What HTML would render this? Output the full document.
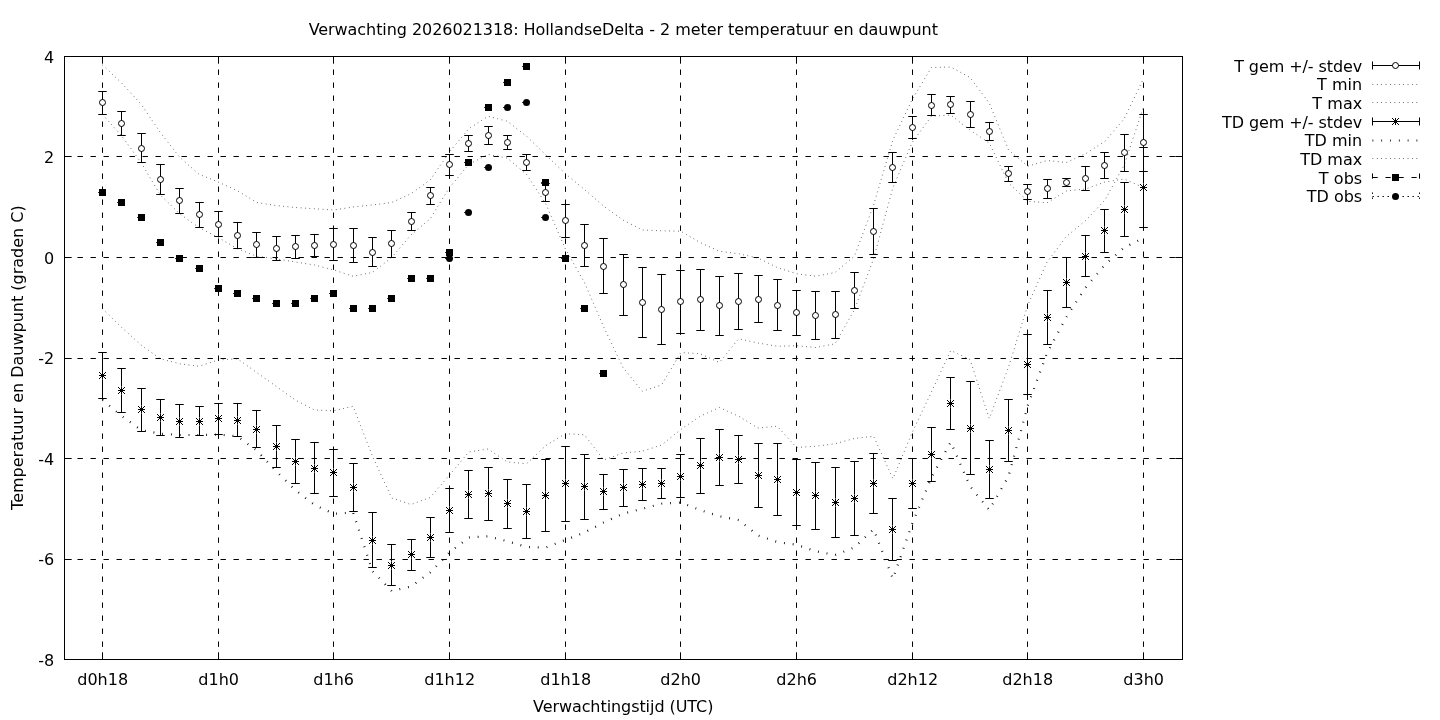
<!DOCTYPE html>
<html lang="nl"><head><meta charset="utf-8"><title>Verwachting 2026021318: HollandseDelta</title>
<style>html,body{margin:0;padding:0;background:#fff;overflow:hidden}svg{display:block}text{font-family:"DejaVu Sans","Liberation Sans",sans-serif;font-size:16px;fill:#000}</style></head><body>
<svg width="1440" height="720" viewBox="0 0 1440 720">
<rect width="1440" height="720" fill="#fff"/>
<g stroke="#000" stroke-width="1" fill="none" stroke-dasharray="5.4 7.6">
<path d="M102.5,56.5 V659.5"/>
<path d="M218.5,56.5 V659.5"/>
<path d="M333.5,56.5 V659.5"/>
<path d="M449.5,56.5 V659.5"/>
<path d="M565.5,56.5 V659.5"/>
<path d="M680.5,56.5 V659.5"/>
<path d="M796.5,56.5 V659.5"/>
<path d="M912.5,56.5 V659.5"/>
<path d="M1027.5,56.5 V659.5"/>
<path d="M1143.5,56.5 V659.5"/>
<path d="M64.5,156.5 H1182.5"/>
<path d="M64.5,257.5 H1182.5"/>
<path d="M64.5,358.5 H1182.5"/>
<path d="M64.5,458.5 H1182.5"/>
<path d="M64.5,559.5 H1182.5"/>
</g>
<g stroke="#000" stroke-width="1" fill="none">
<path d="M102.5,56.5 v7.2 M102.5,659.5 v-7.2"/>
<path d="M218.5,56.5 v7.2 M218.5,659.5 v-7.2"/>
<path d="M333.5,56.5 v7.2 M333.5,659.5 v-7.2"/>
<path d="M449.5,56.5 v7.2 M449.5,659.5 v-7.2"/>
<path d="M565.5,56.5 v7.2 M565.5,659.5 v-7.2"/>
<path d="M680.5,56.5 v7.2 M680.5,659.5 v-7.2"/>
<path d="M796.5,56.5 v7.2 M796.5,659.5 v-7.2"/>
<path d="M912.5,56.5 v7.2 M912.5,659.5 v-7.2"/>
<path d="M1027.5,56.5 v7.2 M1027.5,659.5 v-7.2"/>
<path d="M1143.5,56.5 v7.2 M1143.5,659.5 v-7.2"/>
<path d="M64.5,56.5 h7.2 M1182.5,56.5 h-7.2"/>
<path d="M64.5,156.5 h7.2 M1182.5,156.5 h-7.2"/>
<path d="M64.5,257.5 h7.2 M1182.5,257.5 h-7.2"/>
<path d="M64.5,358.5 h7.2 M1182.5,358.5 h-7.2"/>
<path d="M64.5,458.5 h7.2 M1182.5,458.5 h-7.2"/>
<path d="M64.5,559.5 h7.2 M1182.5,559.5 h-7.2"/>
<path d="M64.5,659.5 h7.2 M1182.5,659.5 h-7.2"/>
</g>
<path stroke="#000" stroke-width="0.8" stroke-dasharray="0.7 3.7" fill="none" d="M102.5,114.5 L121.78,136 L141.06,162.5 L160.33,195 L179.61,213.75 L198.89,227.5 L218.17,237.5 L237.44,248.75 L256.72,256.25 L276,258.75 L295.28,262 L314.56,265 L333.83,270 L353.11,276.25 L372.39,272.5 L391.67,257.5 L410.94,235 L430.22,218.75 L449.5,187.5 L468.78,164.4 L488.06,154.4 L507.33,158.1 L526.61,174.4 L545.89,204 L565.17,248.5 L584.44,282.5 L603.72,327 L623,367.5 L642.28,391.25 L661.56,385 L680.83,352.5 L700.11,353.75 L719.39,362.5 L738.67,338.75 L757.94,343 L777.22,346.25 L796.5,345.75 L815.78,347.5 L835.06,343.75 L854.33,310 L873.61,258.75 L892.89,187.5 L912.17,142.5 L931.44,116.25 L950.72,115 L970,130 L989.28,143 L1008.56,183 L1027.83,201.25 L1047.11,202.75 L1066.39,191 L1085.67,189 L1104.94,182 L1124.22,179 L1143.5,187.5"/>
<path stroke="#000" stroke-width="0.8" stroke-dasharray="0.7 3.7" fill="none" d="M102.5,65 L121.78,83.1 L141.06,104.2 L160.33,132.5 L179.61,157.2 L198.89,174.2 L218.17,182 L237.44,190.8 L256.72,202.5 L276,205.5 L295.28,207.5 L314.56,208.75 L333.83,210 L353.11,207 L372.39,205 L391.67,202.5 L410.94,193.75 L430.22,180 L449.5,151.9 L468.78,128.75 L488.06,116.25 L507.33,121.25 L526.61,136.25 L545.89,155 L565.17,173.5 L584.44,189.5 L603.72,206.25 L623,220 L642.28,230 L661.56,230.75 L680.83,231.25 L700.11,242.5 L719.39,251.25 L738.67,253.75 L757.94,258 L777.22,267.5 L796.5,273.75 L815.78,276.25 L835.06,272.5 L854.33,256.25 L873.61,205 L892.89,140 L912.17,99.5 L931.44,67.5 L950.72,67 L970,77.5 L989.28,103.1 L1008.56,150 L1027.83,166.25 L1047.11,160.5 L1066.39,162.5 L1085.67,153.75 L1104.94,141.25 L1124.22,118.75 L1143.5,78.5"/>
<path stroke="#000" stroke-width="2.2" stroke-dasharray="0.8 8" fill="none" d="M102.5,400 L121.78,416 L141.06,430 L160.33,433.75 L179.61,435 L198.89,435 L218.17,434.5 L237.44,436.25 L256.72,450.5 L276,471 L295.28,490 L314.56,505 L333.83,513.75 L353.11,512.5 L372.39,571 L391.67,591 L410.94,586.5 L430.22,572.5 L449.5,552.5 L468.78,537.5 L488.06,536.25 L507.33,541.25 L526.61,547 L545.89,547.5 L565.17,540 L584.44,532.5 L603.72,522.5 L623,513.75 L642.28,508.75 L661.56,503.75 L680.83,502.5 L700.11,510 L719.39,516.25 L738.67,520 L757.94,535.5 L777.22,542 L796.5,544.75 L815.78,551.25 L835.06,555 L854.33,547.5 L873.61,529.25 L892.89,578.75 L912.17,523.75 L931.44,477.5 L950.72,442 L970,486.25 L989.28,510 L1008.56,476.25 L1027.83,405.5 L1047.11,353 L1066.39,317 L1085.67,287.5 L1104.94,264.7 L1124.22,247.5 L1143.5,238"/>
<path stroke="#000" stroke-width="0.8" stroke-dasharray="0.7 3.7" fill="none" d="M102.5,308.75 L121.78,327.5 L141.06,345 L160.33,358.75 L179.61,363.75 L198.89,366.25 L218.17,360 L237.44,358.75 L256.72,372.5 L276,386.25 L295.28,400 L314.56,410 L333.83,410.75 L353.11,406.25 L372.39,456 L391.67,498 L410.94,504.5 L430.22,497.5 L449.5,475 L468.78,452 L488.06,449 L507.33,462 L526.61,463.75 L545.89,445.5 L565.17,433.75 L584.44,434.75 L603.72,460 L623,453 L642.28,451.25 L661.56,445 L680.83,429.5 L700.11,416.25 L719.39,407.5 L738.67,416.25 L757.94,428 L777.22,426.25 L796.5,447.5 L815.78,446.25 L835.06,443.75 L854.33,438.5 L873.61,436.25 L892.89,478.75 L912.17,432.5 L931.44,392 L950.72,350.5 L970,359.5 L989.28,418.5 L1008.56,367 L1027.83,305 L1047.11,262 L1066.39,236.5 L1085.67,220.5 L1104.94,200 L1124.22,165 L1143.5,107"/>
<path stroke="#000" stroke-width="1" fill="none" d="M102.5,91.5 V114.5 M98.25,91.5 h8.5 M98.25,114.5 h8.5 M121.5,111.5 V135.5 M117.25,111.5 h8.5 M117.25,135.5 h8.5 M141.5,133.5 V162.5 M137.25,133.5 h8.5 M137.25,162.5 h8.5 M160.5,164.5 V194.5 M156.25,164.5 h8.5 M156.25,194.5 h8.5 M179.5,188.5 V213.5 M175.25,188.5 h8.5 M175.25,213.5 h8.5 M199.5,202.5 V227.5 M195.25,202.5 h8.5 M195.25,227.5 h8.5 M218.5,211.5 V236.5 M214.25,211.5 h8.5 M214.25,236.5 h8.5 M237.5,222.5 V248.5 M233.25,222.5 h8.5 M233.25,248.5 h8.5 M256.5,232.5 V257.5 M252.25,232.5 h8.5 M252.25,257.5 h8.5 M276.5,236.5 V260.5 M272.25,236.5 h8.5 M272.25,260.5 h8.5 M295.5,235.5 V258.5 M291.25,235.5 h8.5 M291.25,258.5 h8.5 M314.5,234.5 V256.5 M310.25,234.5 h8.5 M310.25,256.5 h8.5 M333.5,228.5 V260.5 M329.25,228.5 h8.5 M329.25,260.5 h8.5 M353.5,228.5 V262.5 M349.25,228.5 h8.5 M349.25,262.5 h8.5 M372.5,237.5 V266.5 M368.25,237.5 h8.5 M368.25,266.5 h8.5 M391.5,230.5 V257.5 M387.25,230.5 h8.5 M387.25,257.5 h8.5 M411.5,212.5 V230.5 M407.25,212.5 h8.5 M407.25,230.5 h8.5 M430.5,187.5 V204.5 M426.25,187.5 h8.5 M426.25,204.5 h8.5 M449.5,154.5 V175.5 M445.25,154.5 h8.5 M445.25,175.5 h8.5 M468.5,135.5 V151.5 M464.25,135.5 h8.5 M464.25,151.5 h8.5 M488.5,126.5 V144.5 M484.25,126.5 h8.5 M484.25,144.5 h8.5 M507.5,135.5 V149.5 M503.25,135.5 h8.5 M503.25,149.5 h8.5 M526.5,154.5 V170.5 M522.25,154.5 h8.5 M522.25,170.5 h8.5 M545.5,183.5 V201.5 M541.25,183.5 h8.5 M541.25,201.5 h8.5 M565.5,204.5 V237.5 M561.25,204.5 h8.5 M561.25,237.5 h8.5 M584.5,224.5 V266.5 M580.25,224.5 h8.5 M580.25,266.5 h8.5 M603.5,238.5 V293.5 M599.25,238.5 h8.5 M599.25,293.5 h8.5 M623.5,254.5 V315.5 M619.25,254.5 h8.5 M619.25,315.5 h8.5 M642.5,267.5 V337.5 M638.25,267.5 h8.5 M638.25,337.5 h8.5 M661.5,274.5 V344.5 M657.25,274.5 h8.5 M657.25,344.5 h8.5 M680.5,270.5 V333.5 M676.25,270.5 h8.5 M676.25,333.5 h8.5 M700.5,269.5 V330.5 M696.25,269.5 h8.5 M696.25,330.5 h8.5 M719.5,276.5 V335.5 M715.25,276.5 h8.5 M715.25,335.5 h8.5 M738.5,273.5 V329.5 M734.25,273.5 h8.5 M734.25,329.5 h8.5 M758.5,275.5 V322.5 M754.25,275.5 h8.5 M754.25,322.5 h8.5 M777.5,279.5 V330.5 M773.25,279.5 h8.5 M773.25,330.5 h8.5 M796.5,290.5 V335.5 M792.25,290.5 h8.5 M792.25,335.5 h8.5 M815.5,291.5 V339.5 M811.25,291.5 h8.5 M811.25,339.5 h8.5 M835.5,291.5 V338.5 M831.25,291.5 h8.5 M831.25,338.5 h8.5 M854.5,272.5 V308.5 M850.25,272.5 h8.5 M850.25,308.5 h8.5 M873.5,208.5 V254.5 M869.25,208.5 h8.5 M869.25,254.5 h8.5 M892.5,152.5 V182.5 M888.25,152.5 h8.5 M888.25,182.5 h8.5 M912.5,116.5 V138.5 M908.25,116.5 h8.5 M908.25,138.5 h8.5 M931.5,94.5 V115.5 M927.25,94.5 h8.5 M927.25,115.5 h8.5 M950.5,96.5 V113.5 M946.25,96.5 h8.5 M946.25,113.5 h8.5 M970.5,101.5 V127.5 M966.25,101.5 h8.5 M966.25,127.5 h8.5 M989.5,122.5 V140.5 M985.25,122.5 h8.5 M985.25,140.5 h8.5 M1008.5,166.5 V181.5 M1004.25,166.5 h8.5 M1004.25,181.5 h8.5 M1027.5,184.5 V199.5 M1023.25,184.5 h8.5 M1023.25,199.5 h8.5 M1047.5,179.5 V198.5 M1043.25,179.5 h8.5 M1043.25,198.5 h8.5 M1066.5,178.5 V186.5 M1062.25,178.5 h8.5 M1062.25,186.5 h8.5 M1085.5,166.5 V190.5 M1081.25,166.5 h8.5 M1081.25,190.5 h8.5 M1104.5,152.5 V178.5 M1100.25,152.5 h8.5 M1100.25,178.5 h8.5 M1124.5,134.5 V171.5 M1120.25,134.5 h8.5 M1120.25,171.5 h8.5 M1143.5,114.5 V171.5 M1139.25,114.5 h8.5 M1139.25,171.5 h8.5"/>
<g stroke="#000" stroke-width="1" fill="#fff">
<circle cx="102.5" cy="102.5" r="3"/>
<circle cx="121.5" cy="123.5" r="3"/>
<circle cx="141.5" cy="148.5" r="3"/>
<circle cx="160.5" cy="179.5" r="3"/>
<circle cx="179.5" cy="200.5" r="3"/>
<circle cx="199.5" cy="214.5" r="3"/>
<circle cx="218.5" cy="224.5" r="3"/>
<circle cx="237.5" cy="235.5" r="3"/>
<circle cx="256.5" cy="244.5" r="3"/>
<circle cx="276.5" cy="248.5" r="3"/>
<circle cx="295.5" cy="246.5" r="3"/>
<circle cx="314.5" cy="245.5" r="3"/>
<circle cx="333.5" cy="244.5" r="3"/>
<circle cx="353.5" cy="245.5" r="3"/>
<circle cx="372.5" cy="252.5" r="3"/>
<circle cx="391.5" cy="243.5" r="3"/>
<circle cx="411.5" cy="221.5" r="3"/>
<circle cx="430.5" cy="195.5" r="3"/>
<circle cx="449.5" cy="164.5" r="3"/>
<circle cx="468.5" cy="143.5" r="3"/>
<circle cx="488.5" cy="135.5" r="3"/>
<circle cx="507.5" cy="142.5" r="3"/>
<circle cx="526.5" cy="162.5" r="3"/>
<circle cx="545.5" cy="192.5" r="3"/>
<circle cx="565.5" cy="220.5" r="3"/>
<circle cx="584.5" cy="245.5" r="3"/>
<circle cx="603.5" cy="266.5" r="3"/>
<circle cx="623.5" cy="284.5" r="3"/>
<circle cx="642.5" cy="302.5" r="3"/>
<circle cx="661.5" cy="309.5" r="3"/>
<circle cx="680.5" cy="301.5" r="3"/>
<circle cx="700.5" cy="299.5" r="3"/>
<circle cx="719.5" cy="305.5" r="3"/>
<circle cx="738.5" cy="301.5" r="3"/>
<circle cx="758.5" cy="299.5" r="3"/>
<circle cx="777.5" cy="305.5" r="3"/>
<circle cx="796.5" cy="312.5" r="3"/>
<circle cx="815.5" cy="315.5" r="3"/>
<circle cx="835.5" cy="314.5" r="3"/>
<circle cx="854.5" cy="290.5" r="3"/>
<circle cx="873.5" cy="231.5" r="3"/>
<circle cx="892.5" cy="167.5" r="3"/>
<circle cx="912.5" cy="127.5" r="3"/>
<circle cx="931.5" cy="105.5" r="3"/>
<circle cx="950.5" cy="104.5" r="3"/>
<circle cx="970.5" cy="114.5" r="3"/>
<circle cx="989.5" cy="131.5" r="3"/>
<circle cx="1008.5" cy="173.5" r="3"/>
<circle cx="1027.5" cy="191.5" r="3"/>
<circle cx="1047.5" cy="188.5" r="3"/>
<circle cx="1066.5" cy="182.5" r="3"/>
<circle cx="1085.5" cy="178.5" r="3"/>
<circle cx="1104.5" cy="165.5" r="3"/>
<circle cx="1124.5" cy="152.5" r="3"/>
<circle cx="1143.5" cy="142.5" r="3"/>
</g>
<path stroke="#000" stroke-width="1" fill="none" d="M102.5,352.5 V371.7 M102.5,379.3 V398.5 M98.25,352.5 h8.5 M98.25,398.5 h8.5 M121.5,368.5 V386.7 M121.5,394.3 V412.5 M117.25,368.5 h8.5 M117.25,412.5 h8.5 M141.5,388.5 V405.7 M141.5,413.3 V431.5 M137.25,388.5 h8.5 M137.25,431.5 h8.5 M160.5,399.5 V413.7 M160.5,421.3 V435.5 M156.25,399.5 h8.5 M156.25,435.5 h8.5 M179.5,404.5 V417.7 M179.5,425.3 V437.5 M175.25,404.5 h8.5 M175.25,437.5 h8.5 M199.5,406.5 V417.7 M199.5,425.3 V435.5 M195.25,406.5 h8.5 M195.25,435.5 h8.5 M218.5,403.5 V414.7 M218.5,422.3 V434.5 M214.25,403.5 h8.5 M214.25,434.5 h8.5 M237.5,403.5 V416.7 M237.5,424.3 V436.5 M233.25,403.5 h8.5 M233.25,436.5 h8.5 M256.5,410.5 V425.7 M256.5,433.3 V447.5 M252.25,410.5 h8.5 M252.25,447.5 h8.5 M276.5,425.5 V442.7 M276.5,450.3 V467.5 M272.25,425.5 h8.5 M272.25,467.5 h8.5 M295.5,439.5 V457.7 M295.5,465.3 V483.5 M291.25,439.5 h8.5 M291.25,483.5 h8.5 M314.5,442.5 V464.7 M314.5,472.3 V493.5 M310.25,442.5 h8.5 M310.25,493.5 h8.5 M333.5,449.5 V468.7 M333.5,476.3 V496.5 M329.25,449.5 h8.5 M329.25,496.5 h8.5 M353.5,463.5 V483.7 M353.5,491.3 V511.5 M349.25,463.5 h8.5 M349.25,511.5 h8.5 M372.5,512.5 V536.7 M372.5,544.3 V567.5 M368.25,512.5 h8.5 M368.25,567.5 h8.5 M391.5,544.5 V561.7 M391.5,569.3 V585.5 M387.25,544.5 h8.5 M387.25,585.5 h8.5 M411.5,539.5 V550.7 M411.5,558.3 V570.5 M407.25,539.5 h8.5 M407.25,570.5 h8.5 M430.5,517.5 V533.7 M430.5,541.3 V557.5 M426.25,517.5 h8.5 M426.25,557.5 h8.5 M449.5,488.5 V506.7 M449.5,514.3 V532.5 M445.25,488.5 h8.5 M445.25,532.5 h8.5 M468.5,470.5 V490.7 M468.5,498.3 V518.5 M464.25,470.5 h8.5 M464.25,518.5 h8.5 M488.5,467.5 V489.7 M488.5,497.3 V520.5 M484.25,467.5 h8.5 M484.25,520.5 h8.5 M507.5,479.5 V499.7 M507.5,507.3 V528.5 M503.25,479.5 h8.5 M503.25,528.5 h8.5 M526.5,484.5 V507.7 M526.5,515.3 V538.5 M522.25,484.5 h8.5 M522.25,538.5 h8.5 M545.5,459.5 V491.7 M545.5,499.3 V531.5 M541.25,459.5 h8.5 M541.25,531.5 h8.5 M565.5,446.5 V479.7 M565.5,487.3 V521.5 M561.25,446.5 h8.5 M561.25,521.5 h8.5 M584.5,454.5 V482.7 M584.5,490.3 V519.5 M580.25,454.5 h8.5 M580.25,519.5 h8.5 M603.5,474.5 V487.7 M603.5,495.3 V509.5 M599.25,474.5 h8.5 M599.25,509.5 h8.5 M623.5,469.5 V483.7 M623.5,491.3 V506.5 M619.25,469.5 h8.5 M619.25,506.5 h8.5 M642.5,468.5 V480.7 M642.5,488.3 V500.5 M638.25,468.5 h8.5 M638.25,500.5 h8.5 M661.5,468.5 V479.7 M661.5,487.3 V498.5 M657.25,468.5 h8.5 M657.25,498.5 h8.5 M680.5,454.5 V472.7 M680.5,480.3 V497.5 M676.25,454.5 h8.5 M676.25,497.5 h8.5 M700.5,438.5 V461.7 M700.5,469.3 V493.5 M696.25,438.5 h8.5 M696.25,493.5 h8.5 M719.5,429.5 V453.7 M719.5,461.3 V485.5 M715.25,429.5 h8.5 M715.25,485.5 h8.5 M738.5,435.5 V455.7 M738.5,463.3 V483.5 M734.25,435.5 h8.5 M734.25,483.5 h8.5 M758.5,443.5 V471.7 M758.5,479.3 V507.5 M754.25,443.5 h8.5 M754.25,507.5 h8.5 M777.5,443.5 V475.7 M777.5,483.3 V515.5 M773.25,443.5 h8.5 M773.25,515.5 h8.5 M796.5,459.5 V488.7 M796.5,496.3 V525.5 M792.25,459.5 h8.5 M792.25,525.5 h8.5 M815.5,462.5 V491.7 M815.5,499.3 V529.5 M811.25,462.5 h8.5 M811.25,529.5 h8.5 M835.5,467.5 V498.7 M835.5,506.3 V537.5 M831.25,467.5 h8.5 M831.25,537.5 h8.5 M854.5,461.5 V494.7 M854.5,502.3 V535.5 M850.25,461.5 h8.5 M850.25,535.5 h8.5 M873.5,453.5 V479.7 M873.5,487.3 V513.5 M869.25,453.5 h8.5 M869.25,513.5 h8.5 M892.5,498.5 V525.7 M892.5,533.3 V560.5 M888.25,498.5 h8.5 M888.25,560.5 h8.5 M912.5,458.5 V479.7 M912.5,487.3 V508.5 M908.25,458.5 h8.5 M908.25,508.5 h8.5 M931.5,427.5 V450.7 M931.5,458.3 V481.5 M927.25,427.5 h8.5 M927.25,481.5 h8.5 M950.5,377.5 V399.7 M950.5,407.3 V429.5 M946.25,377.5 h8.5 M946.25,429.5 h8.5 M970.5,381.5 V424.7 M970.5,432.3 V474.5 M966.25,381.5 h8.5 M966.25,474.5 h8.5 M989.5,440.5 V465.7 M989.5,473.3 V498.5 M985.25,440.5 h8.5 M985.25,498.5 h8.5 M1008.5,399.5 V426.7 M1008.5,434.3 V461.5 M1004.25,399.5 h8.5 M1004.25,461.5 h8.5 M1027.5,334.5 V360.7 M1027.5,368.3 V394.5 M1023.25,334.5 h8.5 M1023.25,394.5 h8.5 M1047.5,290.5 V313.7 M1047.5,321.3 V344.5 M1043.25,290.5 h8.5 M1043.25,344.5 h8.5 M1066.5,257.5 V278.7 M1066.5,286.3 V307.5 M1062.25,257.5 h8.5 M1062.25,307.5 h8.5 M1085.5,235.5 V252.7 M1085.5,260.3 V276.5 M1081.25,235.5 h8.5 M1081.25,276.5 h8.5 M1104.5,209.5 V226.7 M1104.5,234.3 V252.5 M1100.25,209.5 h8.5 M1100.25,252.5 h8.5 M1124.5,182.5 V205.7 M1124.5,213.3 V236.5 M1120.25,182.5 h8.5 M1120.25,236.5 h8.5 M1143.5,147.5 V183.7 M1143.5,191.3 V227.5 M1139.25,147.5 h8.5 M1139.25,227.5 h8.5"/>
<path stroke="#000" stroke-width="1" fill="#000" d="M99,375.5 h7 M102.5,372 v7 M99,372 l7,7 M99,379 l7,-7 M102.5,374.3 l1.2,1.2 l-1.2,1.2 l-1.2,-1.2 z M118,390.5 h7 M121.5,387 v7 M118,387 l7,7 M118,394 l7,-7 M121.5,389.3 l1.2,1.2 l-1.2,1.2 l-1.2,-1.2 z M138,409.5 h7 M141.5,406 v7 M138,406 l7,7 M138,413 l7,-7 M141.5,408.3 l1.2,1.2 l-1.2,1.2 l-1.2,-1.2 z M157,417.5 h7 M160.5,414 v7 M157,414 l7,7 M157,421 l7,-7 M160.5,416.3 l1.2,1.2 l-1.2,1.2 l-1.2,-1.2 z M176,421.5 h7 M179.5,418 v7 M176,418 l7,7 M176,425 l7,-7 M179.5,420.3 l1.2,1.2 l-1.2,1.2 l-1.2,-1.2 z M196,421.5 h7 M199.5,418 v7 M196,418 l7,7 M196,425 l7,-7 M199.5,420.3 l1.2,1.2 l-1.2,1.2 l-1.2,-1.2 z M215,418.5 h7 M218.5,415 v7 M215,415 l7,7 M215,422 l7,-7 M218.5,417.3 l1.2,1.2 l-1.2,1.2 l-1.2,-1.2 z M234,420.5 h7 M237.5,417 v7 M234,417 l7,7 M234,424 l7,-7 M237.5,419.3 l1.2,1.2 l-1.2,1.2 l-1.2,-1.2 z M253,429.5 h7 M256.5,426 v7 M253,426 l7,7 M253,433 l7,-7 M256.5,428.3 l1.2,1.2 l-1.2,1.2 l-1.2,-1.2 z M273,446.5 h7 M276.5,443 v7 M273,443 l7,7 M273,450 l7,-7 M276.5,445.3 l1.2,1.2 l-1.2,1.2 l-1.2,-1.2 z M292,461.5 h7 M295.5,458 v7 M292,458 l7,7 M292,465 l7,-7 M295.5,460.3 l1.2,1.2 l-1.2,1.2 l-1.2,-1.2 z M311,468.5 h7 M314.5,465 v7 M311,465 l7,7 M311,472 l7,-7 M314.5,467.3 l1.2,1.2 l-1.2,1.2 l-1.2,-1.2 z M330,472.5 h7 M333.5,469 v7 M330,469 l7,7 M330,476 l7,-7 M333.5,471.3 l1.2,1.2 l-1.2,1.2 l-1.2,-1.2 z M350,487.5 h7 M353.5,484 v7 M350,484 l7,7 M350,491 l7,-7 M353.5,486.3 l1.2,1.2 l-1.2,1.2 l-1.2,-1.2 z M369,540.5 h7 M372.5,537 v7 M369,537 l7,7 M369,544 l7,-7 M372.5,539.3 l1.2,1.2 l-1.2,1.2 l-1.2,-1.2 z M388,565.5 h7 M391.5,562 v7 M388,562 l7,7 M388,569 l7,-7 M391.5,564.3 l1.2,1.2 l-1.2,1.2 l-1.2,-1.2 z M408,554.5 h7 M411.5,551 v7 M408,551 l7,7 M408,558 l7,-7 M411.5,553.3 l1.2,1.2 l-1.2,1.2 l-1.2,-1.2 z M427,537.5 h7 M430.5,534 v7 M427,534 l7,7 M427,541 l7,-7 M430.5,536.3 l1.2,1.2 l-1.2,1.2 l-1.2,-1.2 z M446,510.5 h7 M449.5,507 v7 M446,507 l7,7 M446,514 l7,-7 M449.5,509.3 l1.2,1.2 l-1.2,1.2 l-1.2,-1.2 z M465,494.5 h7 M468.5,491 v7 M465,491 l7,7 M465,498 l7,-7 M468.5,493.3 l1.2,1.2 l-1.2,1.2 l-1.2,-1.2 z M485,493.5 h7 M488.5,490 v7 M485,490 l7,7 M485,497 l7,-7 M488.5,492.3 l1.2,1.2 l-1.2,1.2 l-1.2,-1.2 z M504,503.5 h7 M507.5,500 v7 M504,500 l7,7 M504,507 l7,-7 M507.5,502.3 l1.2,1.2 l-1.2,1.2 l-1.2,-1.2 z M523,511.5 h7 M526.5,508 v7 M523,508 l7,7 M523,515 l7,-7 M526.5,510.3 l1.2,1.2 l-1.2,1.2 l-1.2,-1.2 z M542,495.5 h7 M545.5,492 v7 M542,492 l7,7 M542,499 l7,-7 M545.5,494.3 l1.2,1.2 l-1.2,1.2 l-1.2,-1.2 z M562,483.5 h7 M565.5,480 v7 M562,480 l7,7 M562,487 l7,-7 M565.5,482.3 l1.2,1.2 l-1.2,1.2 l-1.2,-1.2 z M581,486.5 h7 M584.5,483 v7 M581,483 l7,7 M581,490 l7,-7 M584.5,485.3 l1.2,1.2 l-1.2,1.2 l-1.2,-1.2 z M600,491.5 h7 M603.5,488 v7 M600,488 l7,7 M600,495 l7,-7 M603.5,490.3 l1.2,1.2 l-1.2,1.2 l-1.2,-1.2 z M620,487.5 h7 M623.5,484 v7 M620,484 l7,7 M620,491 l7,-7 M623.5,486.3 l1.2,1.2 l-1.2,1.2 l-1.2,-1.2 z M639,484.5 h7 M642.5,481 v7 M639,481 l7,7 M639,488 l7,-7 M642.5,483.3 l1.2,1.2 l-1.2,1.2 l-1.2,-1.2 z M658,483.5 h7 M661.5,480 v7 M658,480 l7,7 M658,487 l7,-7 M661.5,482.3 l1.2,1.2 l-1.2,1.2 l-1.2,-1.2 z M677,476.5 h7 M680.5,473 v7 M677,473 l7,7 M677,480 l7,-7 M680.5,475.3 l1.2,1.2 l-1.2,1.2 l-1.2,-1.2 z M697,465.5 h7 M700.5,462 v7 M697,462 l7,7 M697,469 l7,-7 M700.5,464.3 l1.2,1.2 l-1.2,1.2 l-1.2,-1.2 z M716,457.5 h7 M719.5,454 v7 M716,454 l7,7 M716,461 l7,-7 M719.5,456.3 l1.2,1.2 l-1.2,1.2 l-1.2,-1.2 z M735,459.5 h7 M738.5,456 v7 M735,456 l7,7 M735,463 l7,-7 M738.5,458.3 l1.2,1.2 l-1.2,1.2 l-1.2,-1.2 z M755,475.5 h7 M758.5,472 v7 M755,472 l7,7 M755,479 l7,-7 M758.5,474.3 l1.2,1.2 l-1.2,1.2 l-1.2,-1.2 z M774,479.5 h7 M777.5,476 v7 M774,476 l7,7 M774,483 l7,-7 M777.5,478.3 l1.2,1.2 l-1.2,1.2 l-1.2,-1.2 z M793,492.5 h7 M796.5,489 v7 M793,489 l7,7 M793,496 l7,-7 M796.5,491.3 l1.2,1.2 l-1.2,1.2 l-1.2,-1.2 z M812,495.5 h7 M815.5,492 v7 M812,492 l7,7 M812,499 l7,-7 M815.5,494.3 l1.2,1.2 l-1.2,1.2 l-1.2,-1.2 z M832,502.5 h7 M835.5,499 v7 M832,499 l7,7 M832,506 l7,-7 M835.5,501.3 l1.2,1.2 l-1.2,1.2 l-1.2,-1.2 z M851,498.5 h7 M854.5,495 v7 M851,495 l7,7 M851,502 l7,-7 M854.5,497.3 l1.2,1.2 l-1.2,1.2 l-1.2,-1.2 z M870,483.5 h7 M873.5,480 v7 M870,480 l7,7 M870,487 l7,-7 M873.5,482.3 l1.2,1.2 l-1.2,1.2 l-1.2,-1.2 z M889,529.5 h7 M892.5,526 v7 M889,526 l7,7 M889,533 l7,-7 M892.5,528.3 l1.2,1.2 l-1.2,1.2 l-1.2,-1.2 z M909,483.5 h7 M912.5,480 v7 M909,480 l7,7 M909,487 l7,-7 M912.5,482.3 l1.2,1.2 l-1.2,1.2 l-1.2,-1.2 z M928,454.5 h7 M931.5,451 v7 M928,451 l7,7 M928,458 l7,-7 M931.5,453.3 l1.2,1.2 l-1.2,1.2 l-1.2,-1.2 z M947,403.5 h7 M950.5,400 v7 M947,400 l7,7 M947,407 l7,-7 M950.5,402.3 l1.2,1.2 l-1.2,1.2 l-1.2,-1.2 z M967,428.5 h7 M970.5,425 v7 M967,425 l7,7 M967,432 l7,-7 M970.5,427.3 l1.2,1.2 l-1.2,1.2 l-1.2,-1.2 z M986,469.5 h7 M989.5,466 v7 M986,466 l7,7 M986,473 l7,-7 M989.5,468.3 l1.2,1.2 l-1.2,1.2 l-1.2,-1.2 z M1005,430.5 h7 M1008.5,427 v7 M1005,427 l7,7 M1005,434 l7,-7 M1008.5,429.3 l1.2,1.2 l-1.2,1.2 l-1.2,-1.2 z M1024,364.5 h7 M1027.5,361 v7 M1024,361 l7,7 M1024,368 l7,-7 M1027.5,363.3 l1.2,1.2 l-1.2,1.2 l-1.2,-1.2 z M1044,317.5 h7 M1047.5,314 v7 M1044,314 l7,7 M1044,321 l7,-7 M1047.5,316.3 l1.2,1.2 l-1.2,1.2 l-1.2,-1.2 z M1063,282.5 h7 M1066.5,279 v7 M1063,279 l7,7 M1063,286 l7,-7 M1066.5,281.3 l1.2,1.2 l-1.2,1.2 l-1.2,-1.2 z M1082,256.5 h7 M1085.5,253 v7 M1082,253 l7,7 M1082,260 l7,-7 M1085.5,255.3 l1.2,1.2 l-1.2,1.2 l-1.2,-1.2 z M1101,230.5 h7 M1104.5,227 v7 M1101,227 l7,7 M1101,234 l7,-7 M1104.5,229.3 l1.2,1.2 l-1.2,1.2 l-1.2,-1.2 z M1121,209.5 h7 M1124.5,206 v7 M1121,206 l7,7 M1121,213 l7,-7 M1124.5,208.3 l1.2,1.2 l-1.2,1.2 l-1.2,-1.2 z M1140,187.5 h7 M1143.5,184 v7 M1140,184 l7,7 M1140,191 l7,-7 M1143.5,186.3 l1.2,1.2 l-1.2,1.2 l-1.2,-1.2 z"/>
<g fill="#000" stroke="none">
<rect x="99" y="189" width="7" height="7"/>
<rect x="98.2" y="192" width="0.9" height="1"/>
<rect x="118" y="199" width="7" height="7"/>
<rect x="117.2" y="202" width="0.9" height="1"/>
<rect x="138" y="214" width="7" height="7"/>
<rect x="137.2" y="217" width="0.9" height="1"/>
<rect x="157" y="239" width="7" height="7"/>
<rect x="156.2" y="242" width="0.9" height="1"/>
<rect x="176" y="255" width="7" height="7"/>
<rect x="175.2" y="258" width="0.9" height="1"/>
<rect x="196" y="265" width="7" height="7"/>
<rect x="195.2" y="268" width="0.9" height="1"/>
<rect x="215" y="285" width="7" height="7"/>
<rect x="214.2" y="288" width="0.9" height="1"/>
<rect x="234" y="290" width="7" height="7"/>
<rect x="233.2" y="293" width="0.9" height="1"/>
<rect x="253" y="295" width="7" height="7"/>
<rect x="252.2" y="298" width="0.9" height="1"/>
<rect x="273" y="300" width="7" height="7"/>
<rect x="272.2" y="303" width="0.9" height="1"/>
<rect x="292" y="300" width="7" height="7"/>
<rect x="291.2" y="303" width="0.9" height="1"/>
<rect x="311" y="295" width="7" height="7"/>
<rect x="310.2" y="298" width="0.9" height="1"/>
<rect x="330" y="290" width="7" height="7"/>
<rect x="329.2" y="293" width="0.9" height="1"/>
<rect x="350" y="305" width="7" height="7"/>
<rect x="349.2" y="308" width="0.9" height="1"/>
<rect x="369" y="305" width="7" height="7"/>
<rect x="368.2" y="308" width="0.9" height="1"/>
<rect x="388" y="295" width="7" height="7"/>
<rect x="387.2" y="298" width="0.9" height="1"/>
<rect x="408" y="275" width="7" height="7"/>
<rect x="407.2" y="278" width="0.9" height="1"/>
<rect x="427" y="275" width="7" height="7"/>
<rect x="426.2" y="278" width="0.9" height="1"/>
<rect x="446" y="249" width="7" height="7"/>
<rect x="445.2" y="252" width="0.9" height="1"/>
<rect x="465" y="159" width="7" height="7"/>
<rect x="464.2" y="162" width="0.9" height="1"/>
<rect x="485" y="104" width="7" height="7"/>
<rect x="484.2" y="107" width="0.9" height="1"/>
<rect x="504" y="79" width="7" height="7"/>
<rect x="503.2" y="82" width="0.9" height="1"/>
<rect x="523" y="63" width="7" height="7"/>
<rect x="522.2" y="66" width="0.9" height="1"/>
<rect x="542" y="179" width="7" height="7"/>
<rect x="541.2" y="182" width="0.9" height="1"/>
<rect x="562" y="255" width="7" height="7"/>
<rect x="561.2" y="258" width="0.9" height="1"/>
<rect x="581" y="305" width="7" height="7"/>
<rect x="580.2" y="308" width="0.9" height="1"/>
<rect x="600" y="370" width="7" height="7"/>
<rect x="599.2" y="373" width="0.9" height="1"/>
<circle cx="449.5" cy="258.5" r="3.5"/>
<rect x="445.2" y="258" width="0.9" height="1"/>
<circle cx="468.5" cy="212.5" r="3.5"/>
<rect x="464.2" y="212" width="0.9" height="1"/>
<circle cx="488.5" cy="167.5" r="3.5"/>
<rect x="484.2" y="167" width="0.9" height="1"/>
<circle cx="507.5" cy="107.5" r="3.5"/>
<rect x="503.2" y="107" width="0.9" height="1"/>
<circle cx="526.5" cy="102.5" r="3.5"/>
<rect x="522.2" y="102" width="0.9" height="1"/>
<circle cx="545.5" cy="217.5" r="3.5"/>
<rect x="541.2" y="217" width="0.9" height="1"/>
</g>
<rect x="64.5" y="56.5" width="1118" height="603" fill="none" stroke="#000" stroke-width="1"/>
<text x="623.3" y="34.5" text-anchor="middle" textLength="629.3">Verwachting 2026021318: HollandseDelta - 2 meter temperatuur en dauwpunt</text>
<text x="54.1" y="62.7" text-anchor="end">4</text>
<text x="54.1" y="163.2" text-anchor="end">2</text>
<text x="54.1" y="263.7" text-anchor="end">0</text>
<text x="54.1" y="364.2" text-anchor="end">-2</text>
<text x="54.1" y="464.7" text-anchor="end">-4</text>
<text x="54.1" y="565.2" text-anchor="end">-6</text>
<text x="54.1" y="665.7" text-anchor="end">-8</text>
<text x="102.7" y="684.5" text-anchor="middle">d0h18</text>
<text x="218.7" y="684.5" text-anchor="middle">d1h0</text>
<text x="333.7" y="684.5" text-anchor="middle">d1h6</text>
<text x="449.7" y="684.5" text-anchor="middle">d1h12</text>
<text x="565.7" y="684.5" text-anchor="middle">d1h18</text>
<text x="680.7" y="684.5" text-anchor="middle">d2h0</text>
<text x="796.7" y="684.5" text-anchor="middle">d2h6</text>
<text x="912.7" y="684.5" text-anchor="middle">d2h12</text>
<text x="1027.7" y="684.5" text-anchor="middle">d2h18</text>
<text x="1143.7" y="684.5" text-anchor="middle">d3h0</text>
<text x="623.2" y="712" text-anchor="middle" textLength="180.4">Verwachtingstijd (UTC)</text>
<text transform="translate(23.2,357.6) rotate(-90)" text-anchor="middle" textLength="304.6">Temperatuur en Dauwpunt (graden C)</text>
<text x="1362.2" y="71.5" text-anchor="end" textLength="128.06">T gem +/- stdev</text>
<text x="1362.2" y="90.17" text-anchor="end" textLength="45.25">T min</text>
<text x="1362.2" y="108.83" text-anchor="end" textLength="49.86">T max</text>
<text x="1362.2" y="127.5" text-anchor="end" textLength="140.17">TD gem +/- stdev</text>
<text x="1362.2" y="146.17" text-anchor="end" textLength="57.37">TD min</text>
<text x="1362.2" y="164.84" text-anchor="end" textLength="61.98">TD max</text>
<text x="1362.2" y="183.5" text-anchor="end" textLength="43.39">T obs</text>
<text x="1362.2" y="202.17" text-anchor="end" textLength="55.51">TD obs</text>
<path stroke="#000" fill="none" d="M1372.5,65.5 H1419.5 M1372.5,61.5 v8 M1419.5,61.5 v8"/>
<circle cx="1395.5" cy="65.5" r="3" fill="#fff" stroke="#000"/>
<path stroke="#000" stroke-width="0.8" stroke-dasharray="0.7 3.7" fill="none" d="M1372.5,84.5 H1419.5"/>
<path stroke="#000" stroke-width="0.8" stroke-dasharray="0.7 3.7" fill="none" d="M1372.5,102.5 H1419.5"/>
<path stroke="#000" fill="#000" d="M1372.5,121.5 H1419.5 M1372.5,117.5 v8 M1419.5,117.5 v8 M1392,121.5 h7 M1395.5,118 v7 M1392,118 l7,7 M1392,125 l7,-7 M1395.5,120.3 l1.2,1.2 l-1.2,1.2 l-1.2,-1.2 z"/>
<path stroke="#000" stroke-width="2.2" stroke-dasharray="0.8 8" fill="none" d="M1372.5,140.5 H1419.5"/>
<path stroke="#000" stroke-width="0.8" stroke-dasharray="0.7 3.7" fill="none" d="M1372.5,158.5 H1419.5"/>
<path stroke="#000" fill="none" stroke-dasharray="5.2 7.8" d="M1372.5,177.5 H1419.5 M1372.5,173.5 v8 M1419.5,173.5 v8"/>
<rect x="1392" y="174" width="7" height="7" fill="#000"/>
<path stroke="#000" fill="none" stroke-dasharray="1.4 3.6" d="M1372.5,196.5 H1419.5 M1372.5,192.5 v8 M1419.5,192.5 v8"/>
<circle cx="1395.5" cy="196.5" r="3.5" fill="#000"/>
</svg></body></html>
